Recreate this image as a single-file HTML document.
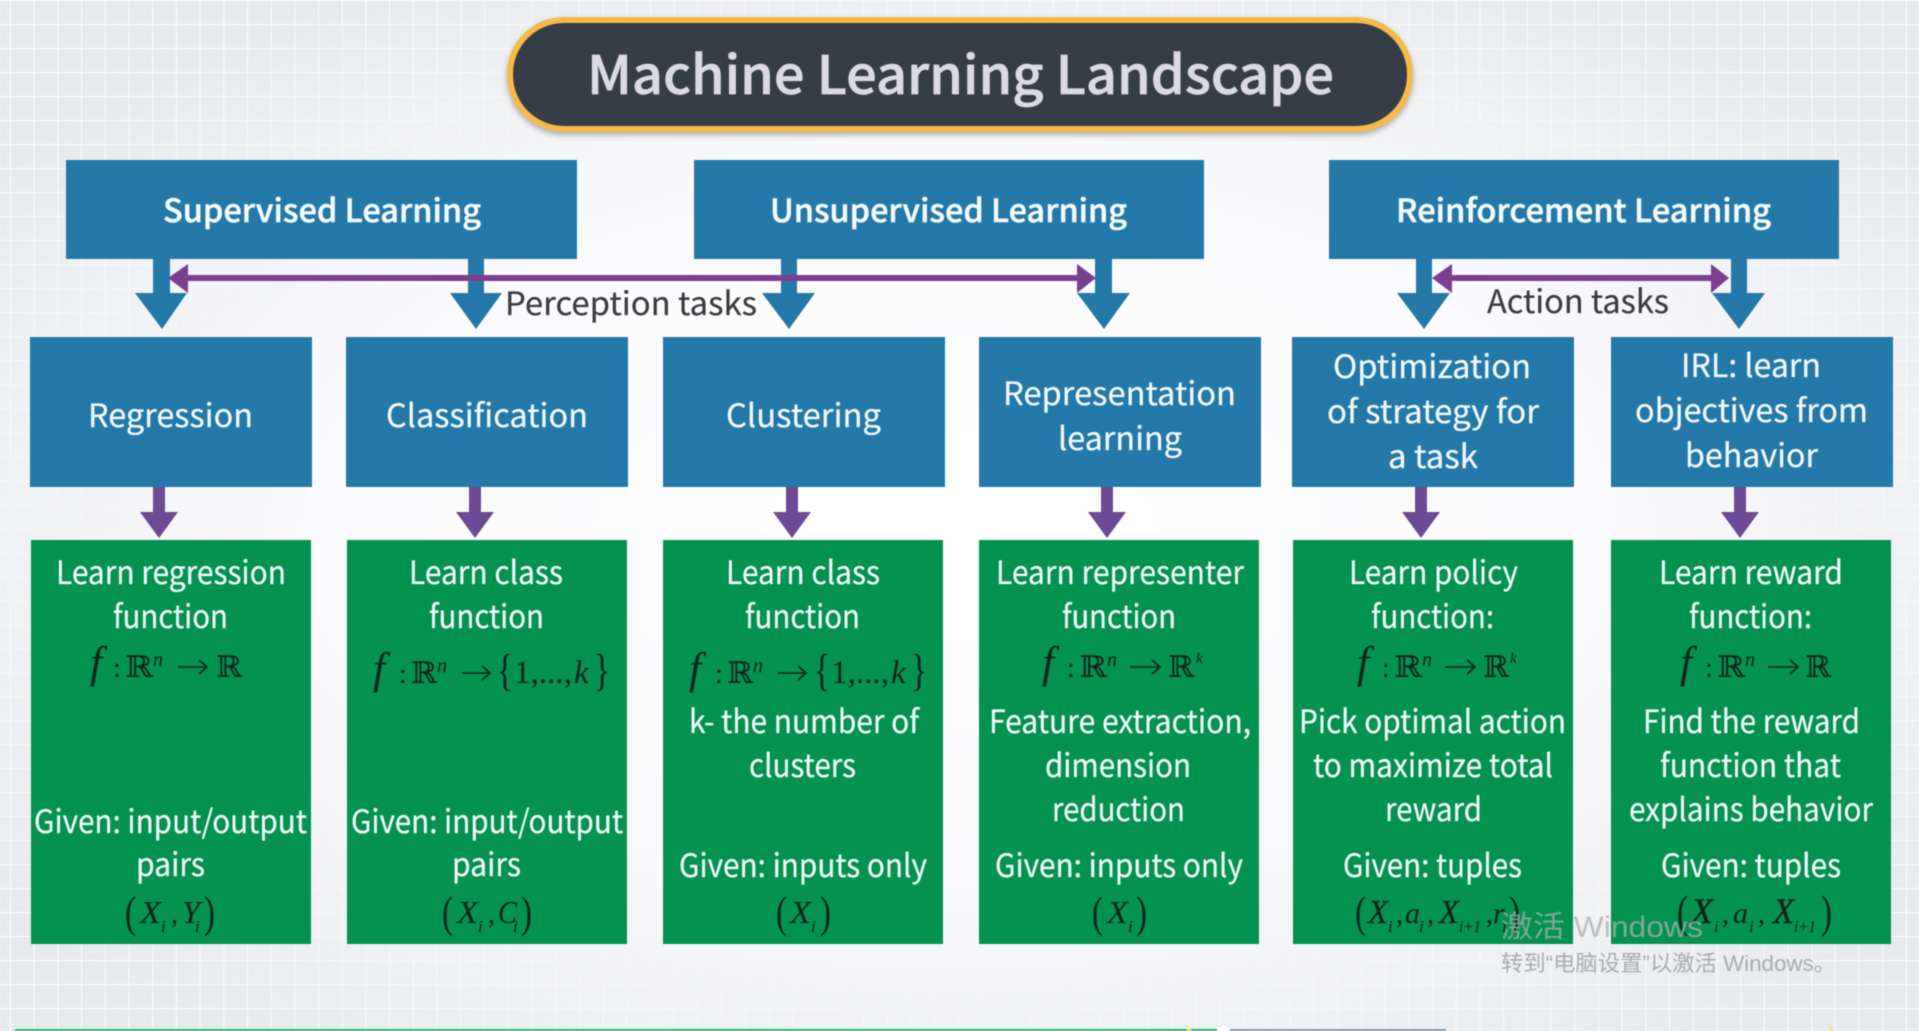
<!DOCTYPE html>
<html><head><meta charset="utf-8"><title>Machine Learning Landscape</title>
<style>
html,body{margin:0;padding:0;width:1919px;height:1031px;overflow:hidden;background:#f4f5f8}
svg{display:block;filter:blur(.4px)}
.s{font-family:"Noto Sans CJK SC","Liberation Sans",sans-serif}
.t{font-family:"Noto Sans CJK SC","Liberation Sans",sans-serif;font-size:32px;fill:#f0f7f7;font-weight:400;stroke:#f0f7f7;stroke-width:.25}
.h{font-family:"Noto Sans CJK SC","Liberation Sans",sans-serif;font-size:32px;fill:#f4fafa;font-weight:500;stroke:#f4fafa;stroke-width:.5}
.d{font-family:"Noto Sans CJK SC","Liberation Sans",sans-serif;font-size:32px;fill:#3a3c40;font-weight:400;stroke:#3a3c40;stroke-width:.2}
.m{font-family:"Liberation Serif",serif;font-style:italic;fill:#10241a}
.n{font-family:"Liberation Serif",serif;fill:#10241a}
.r{font-family:"DejaVu Serif","DejaVu Sans",serif;fill:#10241a}
.ar{fill:none;stroke:#10241a;stroke-width:1.6}
</style></head><body>
<svg width="1919" height="1031" viewBox="0 0 1919 1031" xmlns="http://www.w3.org/2000/svg">
<defs>
<radialGradient id="bg" cx="50%" cy="52%" r="62%">
<stop offset="0" stop-color="#ffffff"/><stop offset=".55" stop-color="#fbfbfd"/><stop offset="1" stop-color="#e7e9ec"/>
</radialGradient>
<pattern id="grid" x="10" y="0" width="23.7" height="24" patternUnits="userSpaceOnUse">
<path d="M0 0V24M0 0H23.7" stroke="#fafcfc" stroke-width="2" fill="none"/>
</pattern>
<radialGradient id="gm" cx="50%" cy="52%" r="62%"><stop offset=".6" stop-color="#000"/><stop offset="1" stop-color="#fff"/></radialGradient>
<mask id="mk"><rect width="1919" height="1031" fill="url(#gm)"/></mask>
<filter id="sh" x="-5%" y="-10%" width="110%" height="125%"><feDropShadow dx="0" dy="3" stdDeviation="3" flood-color="#555" flood-opacity=".45"/></filter>
</defs>
<rect width="1919" height="1031" fill="url(#bg)"/>
<rect width="1919" height="1031" fill="url(#grid)" mask="url(#mk)"/>

<!-- Title -->
<rect x="510" y="20" width="900" height="109" rx="54" fill="#353c47" stroke="#f5bb46" stroke-width="6" filter="url(#sh)"/>
<text class="s" x="587" y="94" font-size="53" font-weight="500" fill="#d9dae2" stroke="#d9dae2" stroke-width=".7" textLength="747" lengthAdjust="spacingAndGlyphs">Machine Learning Landscape</text>

<!-- Blue down arrows -->
<g fill="#2479a9">
<path d="M153 255H170V293H187L162 329L135 293H153Z"/>
<path d="M468 255H484V293H502L476 329L450 293H468Z"/>
<path d="M781 255H797V293H815L789 329L762 293H781Z"/>
<path d="M1095 255H1112V293H1130L1104 329L1077 293H1095Z"/>
<path d="M1416 255H1432V293H1450L1424 329L1397 293H1416Z"/>
<path d="M1731 255H1747V293H1765L1739 329L1712 293H1731Z"/>
</g>

<!-- Top boxes -->
<g fill="#2479a9">
<rect x="66" y="160" width="511" height="99"/>
<rect x="694" y="160" width="510" height="99"/>
<rect x="1329" y="160" width="510" height="99"/>
<rect x="30" y="337" width="282" height="150"/>
<rect x="346" y="337" width="282" height="150"/>
<rect x="663" y="337" width="282" height="150"/>
<rect x="979" y="337" width="282" height="150"/>
<rect x="1292" y="337" width="282" height="150"/>
<rect x="1611" y="337" width="282" height="150"/>
</g>

<!-- Purple double arrows -->
<g fill="#7b3f8f">
<rect x="185" y="275" width="895" height="6"/>
<path d="M168 278L188 264V293Z"/>
<path d="M1096 278L1077 264V293Z"/>
<rect x="1448" y="275" width="266" height="6"/>
<path d="M1432 278L1452 264V293Z"/>
<path d="M1729 278L1711 264V293Z"/>
</g>
<g fill="#6f4a94">
<path d="M153 487H165V512H178L159 538L140 512H153Z"/>
<path d="M469 487H481V512H494L475 538L456 512H469Z"/>
<path d="M786 487H798V512H811L792 538L773 512H786Z"/>
<path d="M1101 487H1113V512H1126L1107 538L1088 512H1101Z"/>
<path d="M1415 487H1427V512H1440L1421 538L1402 512H1415Z"/>
<path d="M1734 487H1746V512H1759L1740 538L1721 512H1734Z"/>
</g>

<!-- Green boxes -->
<g fill="#03924f">
<rect x="31" y="540" width="280" height="404"/>
<rect x="347" y="540" width="280" height="404"/>
<rect x="663" y="540" width="280" height="404"/>
<rect x="979" y="540" width="280" height="404"/>
<rect x="1293" y="540" width="280" height="404"/>
<rect x="1611" y="540" width="280" height="404"/>
</g>

<!-- Headers -->
<text class="h" x="163" y="222" textLength="318" lengthAdjust="spacingAndGlyphs">Supervised Learning</text>
<text class="h" x="770" y="222" textLength="357" lengthAdjust="spacingAndGlyphs">Unsupervised Learning</text>
<text class="h" x="1396" y="222" textLength="375" lengthAdjust="spacingAndGlyphs">Reinforcement Learning</text>
<text class="d" x="505" y="315" textLength="252" lengthAdjust="spacingAndGlyphs">Perception tasks</text>
<text class="d" x="1487" y="313" textLength="182" lengthAdjust="spacingAndGlyphs">Action tasks</text>

<!-- Second row -->
<text class="t" x="88" y="427" textLength="165" lengthAdjust="spacingAndGlyphs">Regression</text>
<text class="t" x="386" y="427" textLength="202" lengthAdjust="spacingAndGlyphs">Classification</text>
<text class="t" x="726" y="427" textLength="155" lengthAdjust="spacingAndGlyphs">Clustering</text>
<text class="t" x="1003" y="405" textLength="233" lengthAdjust="spacingAndGlyphs">Representation</text>
<text class="t" x="1058" y="450" textLength="124" lengthAdjust="spacingAndGlyphs">learning</text>
<text class="t" x="1333" y="378" textLength="198" lengthAdjust="spacingAndGlyphs">Optimization</text>
<text class="t" x="1327" y="423" textLength="212" lengthAdjust="spacingAndGlyphs">of strategy for</text>
<text class="t" x="1388" y="468" textLength="90" lengthAdjust="spacingAndGlyphs">a task</text>
<text class="t" x="1681" y="377" textLength="140" lengthAdjust="spacingAndGlyphs">IRL: learn</text>
<text class="t" x="1635" y="422" textLength="233" lengthAdjust="spacingAndGlyphs">objectives from</text>
<text class="t" x="1685" y="467" textLength="133" lengthAdjust="spacingAndGlyphs">behavior</text>

<!-- Green text col1 -->
<text class="t" x="56" y="584" textLength="230" lengthAdjust="spacingAndGlyphs">Learn regression</text>
<text class="t" x="113" y="628" textLength="115" lengthAdjust="spacingAndGlyphs">function</text>
<text class="t" x="34" y="833" textLength="273" lengthAdjust="spacingAndGlyphs">Given: input/output</text>
<text class="t" x="136" y="876" textLength="69" lengthAdjust="spacingAndGlyphs">pairs</text>
<!-- col2 -->
<text class="t" x="409" y="584" textLength="154" lengthAdjust="spacingAndGlyphs">Learn class</text>
<text class="t" x="429" y="628" textLength="115" lengthAdjust="spacingAndGlyphs">function</text>
<text class="t" x="351" y="833" textLength="272" lengthAdjust="spacingAndGlyphs">Given: input/output</text>
<text class="t" x="452" y="876" textLength="69" lengthAdjust="spacingAndGlyphs">pairs</text>
<!-- col3 -->
<text class="t" x="726" y="584" textLength="154" lengthAdjust="spacingAndGlyphs">Learn class</text>
<text class="t" x="745" y="628" textLength="115" lengthAdjust="spacingAndGlyphs">function</text>
<text class="t" x="689" y="733" textLength="230" lengthAdjust="spacingAndGlyphs">k- the number of</text>
<text class="t" x="749" y="777" textLength="107" lengthAdjust="spacingAndGlyphs">clusters</text>
<text class="t" x="679" y="877" textLength="248" lengthAdjust="spacingAndGlyphs">Given: inputs only</text>
<!-- col4 -->
<text class="t" x="996" y="584" textLength="248" lengthAdjust="spacingAndGlyphs">Learn representer</text>
<text class="t" x="1062" y="628" textLength="114" lengthAdjust="spacingAndGlyphs">function</text>
<text class="t" x="989" y="733" textLength="262" lengthAdjust="spacingAndGlyphs">Feature extraction,</text>
<text class="t" x="1045" y="777" textLength="146" lengthAdjust="spacingAndGlyphs">dimension</text>
<text class="t" x="1052" y="821" textLength="133" lengthAdjust="spacingAndGlyphs">reduction</text>
<text class="t" x="995" y="877" textLength="248" lengthAdjust="spacingAndGlyphs">Given: inputs only</text>
<!-- col5 -->
<text class="t" x="1349" y="584" textLength="169" lengthAdjust="spacingAndGlyphs">Learn policy</text>
<text class="t" x="1371" y="628" textLength="123" lengthAdjust="spacingAndGlyphs">function:</text>
<text class="t" x="1299" y="733" textLength="267" lengthAdjust="spacingAndGlyphs">Pick optimal action</text>
<text class="t" x="1313" y="777" textLength="240" lengthAdjust="spacingAndGlyphs">to maximize total</text>
<text class="t" x="1385" y="821" textLength="97" lengthAdjust="spacingAndGlyphs">reward</text>
<text class="t" x="1343" y="877" textLength="179" lengthAdjust="spacingAndGlyphs">Given: tuples</text>
<!-- col6 -->
<text class="t" x="1659" y="584" textLength="184" lengthAdjust="spacingAndGlyphs">Learn reward</text>
<text class="t" x="1689" y="628" textLength="123" lengthAdjust="spacingAndGlyphs">function:</text>
<text class="t" x="1643" y="733" textLength="217" lengthAdjust="spacingAndGlyphs">Find the reward</text>
<text class="t" x="1660" y="777" textLength="181" lengthAdjust="spacingAndGlyphs">function that</text>
<text class="t" x="1629" y="821" textLength="244" lengthAdjust="spacingAndGlyphs">explains behavior</text>
<text class="t" x="1661" y="877" textLength="180" lengthAdjust="spacingAndGlyphs">Given: tuples</text>

<!-- Math: f:R^n -> R (col1) -->
<g>
<text class="m" x="90" y="677" font-size="44">f</text>
<text class="n" x="113" y="677" font-size="28">:</text>
<text class="r" x="125" y="677" font-size="30" textLength="28" lengthAdjust="spacingAndGlyphs">ℝ</text>
<text class="m" x="153" y="666" font-size="20">n</text>
<path class="ar" d="M178 667H207M199 660L207 667L199 674"/>
<text class="r" x="216" y="677" font-size="30" textLength="26" lengthAdjust="spacingAndGlyphs">ℝ</text>
</g>
<!-- col4 -->
<g>
<text class="m" x="1042" y="677" font-size="44">f</text>
<text class="n" x="1067" y="677" font-size="28">:</text>
<text class="r" x="1079" y="677" font-size="30" textLength="28" lengthAdjust="spacingAndGlyphs">ℝ</text>
<text class="m" x="1107" y="666" font-size="20">n</text>
<path class="ar" d="M1130 667H1160M1152 660L1160 667L1152 674"/>
<text class="r" x="1168" y="677" font-size="30" textLength="26" lengthAdjust="spacingAndGlyphs">ℝ</text>
<text class="m" x="1196" y="663" font-size="15">k</text>
</g>
<!-- col5 -->
<g>
<text class="m" x="1357" y="677" font-size="44">f</text>
<text class="n" x="1382" y="677" font-size="28">:</text>
<text class="r" x="1394" y="677" font-size="30" textLength="28" lengthAdjust="spacingAndGlyphs">ℝ</text>
<text class="m" x="1422" y="666" font-size="20">n</text>
<path class="ar" d="M1445 667H1475M1467 660L1475 667L1467 674"/>
<text class="r" x="1483" y="677" font-size="30" textLength="26" lengthAdjust="spacingAndGlyphs">ℝ</text>
<text class="m" x="1510" y="663" font-size="15">k</text>
</g>
<!-- col6 -->
<g>
<text class="m" x="1680" y="677" font-size="44">f</text>
<text class="n" x="1705" y="677" font-size="28">:</text>
<text class="r" x="1717" y="677" font-size="30" textLength="28" lengthAdjust="spacingAndGlyphs">ℝ</text>
<text class="m" x="1745" y="666" font-size="20">n</text>
<path class="ar" d="M1768 667H1798M1790 660L1798 667L1790 674"/>
<text class="r" x="1805" y="677" font-size="30" textLength="26" lengthAdjust="spacingAndGlyphs">ℝ</text>
</g>
<!-- col2 set -->
<g>
<text class="m" x="373" y="683" font-size="44">f</text>
<text class="n" x="399" y="683" font-size="28">:</text>
<text class="r" x="411" y="683" font-size="30" textLength="26" lengthAdjust="spacingAndGlyphs">ℝ</text>
<text class="m" x="437" y="672" font-size="20">n</text>
<path class="ar" d="M462 673H490M482 666L490 673L482 680"/>
<text class="n" x="497" y="685" font-size="44" textLength="16" lengthAdjust="spacingAndGlyphs">{</text>
<text class="n" x="514" y="683" font-size="33" textLength="58" lengthAdjust="spacingAndGlyphs">1,...,</text>
<text class="m" x="574" y="683" font-size="33">k</text>
<text class="n" x="594" y="685" font-size="44" textLength="16" lengthAdjust="spacingAndGlyphs">}</text>
</g>
<!-- col3 set -->
<g>
<text class="m" x="689" y="683" font-size="44">f</text>
<text class="n" x="715" y="683" font-size="28">:</text>
<text class="r" x="727" y="683" font-size="30" textLength="26" lengthAdjust="spacingAndGlyphs">ℝ</text>
<text class="m" x="753" y="672" font-size="20">n</text>
<path class="ar" d="M778 673H806M798 666L806 673L798 680"/>
<text class="n" x="814" y="685" font-size="44" textLength="16" lengthAdjust="spacingAndGlyphs">{</text>
<text class="n" x="831" y="683" font-size="33" textLength="58" lengthAdjust="spacingAndGlyphs">1,...,</text>
<text class="m" x="891" y="683" font-size="33">k</text>
<text class="n" x="911" y="685" font-size="44" textLength="16" lengthAdjust="spacingAndGlyphs">}</text>
</g>

<!-- Tuples -->
<g>
<text class="n" x="125" y="927" font-size="44" textLength="11" lengthAdjust="spacingAndGlyphs">(</text>
<text class="m" x="140" y="923" font-size="32" textLength="21" lengthAdjust="spacingAndGlyphs">X</text>
<text class="m" x="161" y="932" font-size="17">i</text>
<text class="n" x="171" y="923" font-size="28">,</text>
<text class="m" x="182" y="923" font-size="32" textLength="18" lengthAdjust="spacingAndGlyphs">Y</text>
<text class="m" x="195" y="932" font-size="17">i</text>
<text class="n" x="204" y="927" font-size="44" textLength="11" lengthAdjust="spacingAndGlyphs">)</text>
</g>
<g>
<text class="n" x="442" y="927" font-size="44" textLength="11" lengthAdjust="spacingAndGlyphs">(</text>
<text class="m" x="457" y="923" font-size="32" textLength="21" lengthAdjust="spacingAndGlyphs">X</text>
<text class="m" x="478" y="932" font-size="17">i</text>
<text class="n" x="488" y="923" font-size="28">,</text>
<text class="m" x="498" y="923" font-size="32" textLength="19" lengthAdjust="spacingAndGlyphs">C</text>
<text class="m" x="513" y="932" font-size="17">i</text>
<text class="n" x="521" y="927" font-size="44" textLength="11" lengthAdjust="spacingAndGlyphs">)</text>
</g>
<g>
<text class="n" x="776" y="927" font-size="44" textLength="11" lengthAdjust="spacingAndGlyphs">(</text>
<text class="m" x="790" y="923" font-size="32" textLength="21" lengthAdjust="spacingAndGlyphs">X</text>
<text class="m" x="811" y="932" font-size="17">i</text>
<text class="n" x="820" y="927" font-size="44" textLength="11" lengthAdjust="spacingAndGlyphs">)</text>
</g>
<g>
<text class="n" x="1092" y="927" font-size="44" textLength="11" lengthAdjust="spacingAndGlyphs">(</text>
<text class="m" x="1107" y="923" font-size="32" textLength="21" lengthAdjust="spacingAndGlyphs">X</text>
<text class="m" x="1128" y="932" font-size="17">i</text>
<text class="n" x="1136" y="927" font-size="44" textLength="11" lengthAdjust="spacingAndGlyphs">)</text>
</g>
<g>
<text class="n" x="1355" y="927" font-size="44" textLength="11" lengthAdjust="spacingAndGlyphs">(</text>
<text class="m" x="1368" y="923" font-size="34" textLength="20" lengthAdjust="spacingAndGlyphs" stroke="#10241a" stroke-width=".3">X</text>
<text class="m" x="1388" y="932" font-size="17">i</text>
<text class="n" x="1396" y="923" font-size="28">,</text>
<text class="m" x="1405" y="923" font-size="30" textLength="15" lengthAdjust="spacingAndGlyphs">a</text>
<text class="m" x="1419" y="932" font-size="17">i</text>
<text class="n" x="1427" y="923" font-size="28">,</text>
<text class="m" x="1439" y="923" font-size="34" textLength="20" lengthAdjust="spacingAndGlyphs" stroke="#10241a" stroke-width=".3">X</text>
<text class="m" x="1459" y="932" font-size="17" textLength="22" lengthAdjust="spacingAndGlyphs">i+1</text>
<text class="n" x="1486" y="923" font-size="28">,</text>
<text class="m" x="1493" y="923" font-size="30">r</text>
<text class="m" x="1502" y="932" font-size="17">i</text>
<text class="n" x="1509" y="927" font-size="44" textLength="11" lengthAdjust="spacingAndGlyphs">)</text>
</g>
<g>
<text class="n" x="1677" y="927" font-size="46" textLength="11" lengthAdjust="spacingAndGlyphs">(</text>
<text class="m" x="1691" y="923" font-size="36" textLength="22" lengthAdjust="spacingAndGlyphs" stroke="#10241a" stroke-width=".4">X</text>
<text class="m" x="1714" y="932" font-size="17">i</text>
<text class="n" x="1722" y="923" font-size="28">,</text>
<text class="m" x="1733" y="923" font-size="30" textLength="15" lengthAdjust="spacingAndGlyphs">a</text>
<text class="m" x="1749" y="932" font-size="17">i</text>
<text class="n" x="1758" y="923" font-size="28">,</text>
<text class="m" x="1773" y="923" font-size="36" textLength="21" lengthAdjust="spacingAndGlyphs" stroke="#10241a" stroke-width=".4">X</text>
<text class="m" x="1794" y="932" font-size="17" textLength="22" lengthAdjust="spacingAndGlyphs">i+1</text>
<text class="n" x="1821" y="927" font-size="46" textLength="11" lengthAdjust="spacingAndGlyphs">)</text>
</g>

<!-- Watermark -->
<text x="1501" y="937" font-family="'Liberation Sans','Noto Sans CJK SC',sans-serif" font-size="30" fill="#a9adae" fill-opacity=".75" textLength="202" lengthAdjust="spacingAndGlyphs">激活 Windows</text>
<text x="1501" y="971" font-family="'Liberation Sans','Noto Sans CJK SC',sans-serif" font-size="22" fill="#a9adae" textLength="335" lengthAdjust="spacingAndGlyphs">转到“电脑设置”以激活 Windows。</text>

<!-- Bottom bar -->
<rect x="15" y="1029" width="1202" height="2" fill="#2bb673"/>
<rect x="1187" y="1029" width="4" height="2" fill="#ffee00"/>
<circle cx="1223" cy="1032" r="6" fill="#fff"/>
<rect x="1230" y="1029" width="216" height="2" fill="#8a9bb0"/>
<rect x="1830" y="1029" width="3" height="2" fill="#ffee00"/>
</svg>
</body></html>
